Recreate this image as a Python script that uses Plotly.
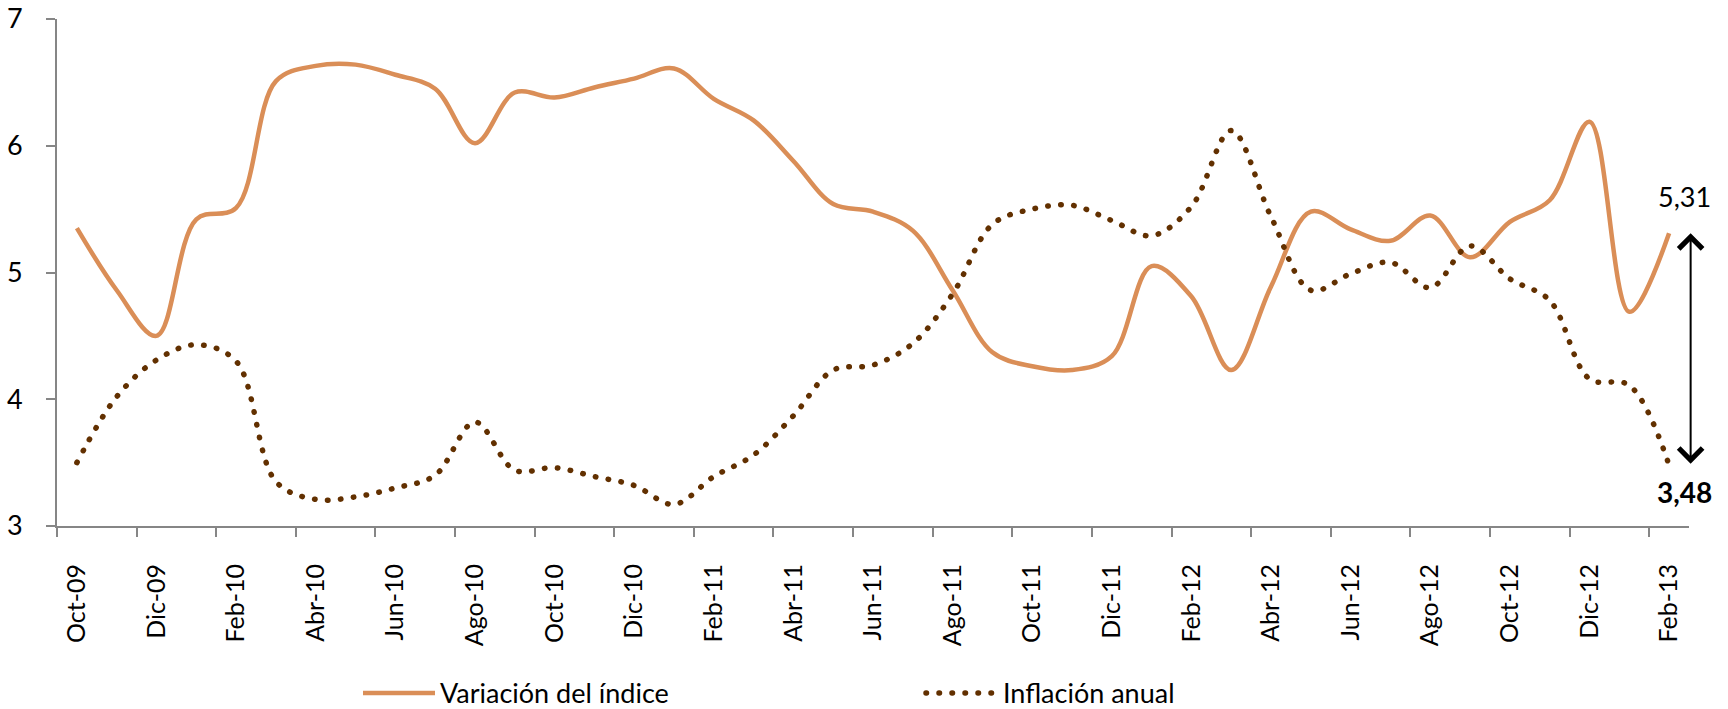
import plotly.graph_objects as go

months = ["Oct-09", "Nov-09", "Dic-09", "Ene-10", "Feb-10", "Mar-10", "Abr-10", "May-10",
          "Jun-10", "Jul-10", "Ago-10", "Sep-10", "Oct-10", "Nov-10", "Dic-10", "Ene-11",
          "Feb-11", "Mar-11", "Abr-11", "May-11", "Jun-11", "Jul-11", "Ago-11", "Sep-11",
          "Oct-11", "Nov-11", "Dic-11", "Ene-12", "Feb-12", "Mar-12", "Abr-12", "May-12",
          "Jun-12", "Jul-12", "Ago-12", "Sep-12", "Oct-12", "Nov-12", "Dic-12", "Ene-13",
          "Feb-13"]

variacion_indice = [5.35, 4.86, 4.50, 5.42, 5.51, 6.51, 6.63, 6.64, 6.56, 6.45,
                    6.02, 6.42, 6.38, 6.46, 6.53, 6.61, 6.37, 6.20, 5.88, 5.54,
                    5.48, 5.33, 4.86, 4.37, 4.26, 4.23, 4.34, 5.05, 4.81, 4.23,
                    4.89, 5.48, 5.34, 5.25, 5.45, 5.12, 5.40, 5.57, 6.19, 4.69,
                    5.31]

inflacion_anual = [3.50, 4.02, 4.31, 4.43, 4.30, 3.35, 3.21, 3.23, 3.30, 3.40,
                   3.82, 3.44, 3.46, 3.39, 3.32, 3.17, 3.39, 3.56, 3.87, 4.23,
                   4.27, 4.44, 4.83, 5.38, 5.50, 5.53, 5.41, 5.29, 5.52, 6.12,
                   5.44, 4.86, 4.99, 5.08, 4.88, 5.21, 4.95, 4.78, 4.16, 4.11,
                   3.48]

series_names = ["Variación del índice", "Inflación anual"]
label_last_var = "5,31"
label_last_inf = "3,48"

ORANGE = "#DA8E57"
BROWN = "#623000"
AXIS = "#868686"
FONT = "Lato, 'Open Sans', sans-serif"

fig = go.Figure()
fig.add_trace(go.Scatter(
    x=months, y=variacion_indice, name=series_names[0], mode="lines",
    line=dict(color=ORANGE, width=4.5, shape="spline", smoothing=1.0),
))
fig.add_trace(go.Scatter(
    x=months, y=inflacion_anual, name=series_names[1], mode="lines",
    line=dict(color=BROWN, width=5.5, shape="spline", smoothing=1.0, dash="0.5px,12.5px"),
))

fig.add_annotation(
    xref="paper", yref="y", axref="pixel", ayref="y",
    x=1.001, y=variacion_indice[-1], ax=0, ay=inflacion_anual[-1],
    text="", showarrow=True, arrowside="end+start",
    arrowhead=4, startarrowhead=4, arrowsize=2.3, startarrowsize=2.3,
    arrowwidth=2, arrowcolor="black",
)
fig.add_annotation(
    xref="paper", yref="y", x=0.997, y=5.6, text=label_last_var, showarrow=False,
    xanchor="center", yanchor="middle",
    font=dict(family=FONT, size=27, color="black"),
)
fig.add_annotation(
    xref="paper", yref="y", x=0.997, y=3.27, text="<b>" + label_last_inf + "</b>", showarrow=False,
    xanchor="center", yanchor="middle",
    font=dict(family=FONT, size=28, color="black"),
)

fig.update_layout(
    width=1728, height=709,
    margin=dict(l=57, r=39, t=19, b=183, autoexpand=False),
    paper_bgcolor="white", plot_bgcolor="white",
    font=dict(family=FONT, size=27, color="black"),
    showlegend=True,
    legend=dict(
        orientation="h", xanchor="left", yanchor="middle",
        x=(358 - 57) / 1632, y=(525.7 - 693) / 506.7,
        entrywidth=476, entrywidthmode="pixels", itemwidth=72,
        font=dict(family=FONT, size=27, color="black"),
        bgcolor="rgba(0,0,0,0)",
    ),
)
fig.update_xaxes(
    type="category", categoryorder="array", categoryarray=months,
    range=[-0.5, len(months) - 0.5],
    tickmode="linear", tick0=0, dtick=2, tickson="boundaries",
    ticks="outside", ticklen=9, tickwidth=2, tickcolor=AXIS,
    tickangle=-90, ticklabelstandoff=26,
    showline=True, linecolor=AXIS, linewidth=2,
    showgrid=False, zeroline=False,
    tickfont=dict(family=FONT, size=25, color="black"),
)
fig.update_yaxes(
    range=[3, 7], tickmode="linear", tick0=3, dtick=1,
    ticks="outside", ticklen=9, tickwidth=2, tickcolor=AXIS,
    ticklabelstandoff=18,
    showline=True, linecolor=AXIS, linewidth=2,
    showgrid=False, zeroline=False,
    tickfont=dict(family=FONT, size=27, color="black"),
)

css_js = """
var st = document.createElement('style');
st.textContent = 'html, body { margin: 0; padding: 0; } .scatterlayer .trace:nth-child(2) path.js-line, .legend .traces:nth-child(2) path.js-line { stroke-linecap: round; }';
document.head.appendChild(st);
"""

fig.write_html("out.html", post_script=css_js, config={"displayModeBar": False})
